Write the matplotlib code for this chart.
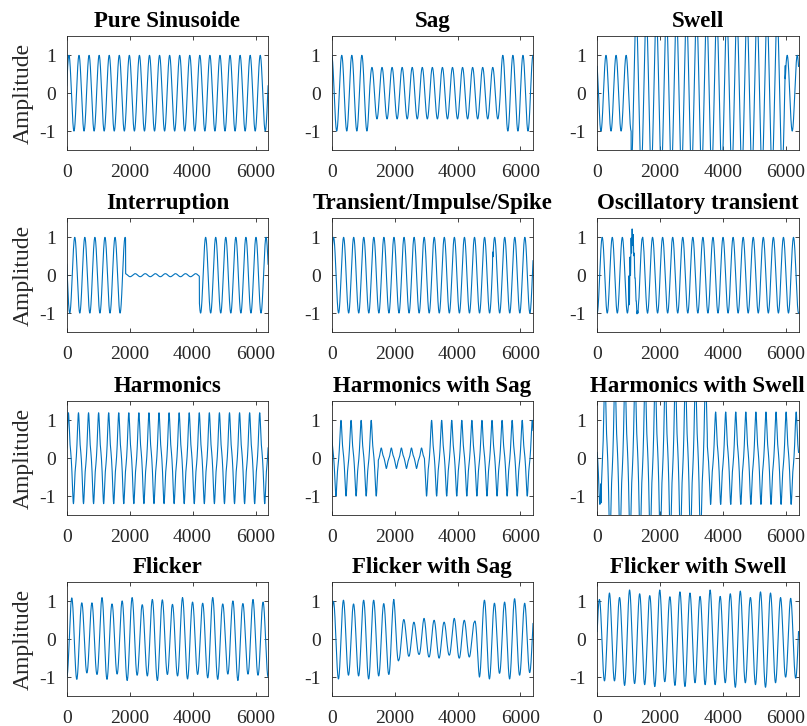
import numpy as np
import matplotlib
matplotlib.use("Agg")
import matplotlib.pyplot as plt

# ---------------- data ----------------
N_SAMPLES = 6400
PERIOD = 320                      # samples per fundamental cycle
x_ticks = [0, 2000, 4000, 6000]
y_ticks = [-1, 0, 1]

titles = ["Pure Sinusoide", "Sag", "Swell",
          "Interruption", "Transient/Impulse/Spike", "Oscillatory transient",
          "Harmonics", "Harmonics with Sag", "Harmonics with Swell",
          "Flicker", "Flicker with Sag", "Flicker with Swell"]

# sample position of a (main) positive peak of each waveform
peak_sample = [70, 0, 280, 255, 60, 160, 53, 296, 245, 160, 55, 70]
# waveform kind: sine carrier or harmonic-distorted carrier
kind = ["sine", "sine", "sine", "sine", "sine", "sine",
        "harm", "harm", "harm", "flick", "flick", "flick"]
# amplitude (peak value) outside any event
base_amp = [1.0, 1.0, 1.0, 1.0, 1.0, 1.0, 1.2, 1.0, 1.22, 1.0, 1.0, 1.0]
# step events: (start sample, end sample, amplitude inside)
events = {1: (1200, 5360, 0.68),
          2: (1080, 5980, 2.0),
          3: (1870, 4215, 0.04),
          7: (1480, 2950, 0.27),
          8: (120, 3500, 2.2)}

# impulse (panel 5): start, end, height
spike = (5112, 5126, 0.14)
# oscillatory transient (panel 6): start, amplitude, period, decay
osc = (1000, 0.6, 34, 120)

# harmonic content: 3rd and 5th harmonic amplitude / phase
harm3_amp, harm3_phase = 0.2, np.pi + 0.35
harm5_amp, harm5_phase = 0.03, 0.0

# flicker extreme magnitudes (peaks at peak+320k, troughs at peak-160+320k)
flicker_peaks = {
    9: [1.09, 0.96, 0.96, 1.10, 0.93, 1.01, 1.10, 0.91, 1.05, 1.04,
        0.92, 1.10, 0.98, 0.95, 1.10, 0.93, 1.01, 0.94, 1.05, 0.98],
    10: [1.00, 1.03, 0.93, 1.03, 1.03, 0.94, 1.05, 0.52, 0.45, 0.55,
         0.50, 0.45, 0.55, 0.50, 0.45, 1.03, 0.95, 0.98, 1.07, 0.95],
    11: [1.05, 1.22, 1.10, 1.30, 1.20, 1.15, 1.30, 1.12, 1.25, 1.22,
         1.13, 1.30, 1.13, 1.20, 1.27, 1.10, 1.25, 1.22, 1.10, 1.08],
}
flicker_troughs = {
    9: [1.00, 1.06, 0.89, 0.93, 1.06, 0.92, 1.09, 0.95, 0.97, 1.09, 0.93,
        0.97, 1.05, 0.93, 1.02, 1.06, 0.92, 1.09, 0.92, 0.95, 1.00],
    10: [1.00, 1.05, 0.95, 0.97, 1.05, 0.97, 0.93, 0.55, 0.45, 0.40, 0.47,
         0.50, 0.42, 0.50, 0.47, 1.00, 1.05, 0.90, 1.05, 0.95, 0.88],
    11: [1.00, 1.10, 1.10, 1.22, 1.17, 1.20, 1.25, 1.12, 1.22, 1.25, 1.15,
         1.20, 1.20, 1.15, 1.27, 1.15, 1.20, 1.27, 1.15, 1.00, 1.03],
}

# ---------------- build waveforms ----------------
t = np.arange(N_SAMPLES + 1, dtype=float)


def harm_shape(theta):
    return (np.sin(theta) + harm3_amp * np.sin(3 * theta + harm3_phase)
            + harm5_amp * np.sin(5 * theta + harm5_phase))


grid = np.linspace(0, 2 * np.pi, 4000, endpoint=False)
hvals = harm_shape(grid)
h_norm = hvals.max()
h_theta = grid[np.argmax(hvals)]

signals = []
for i in range(12):
    phase = 2 * np.pi * (t - peak_sample[i]) / PERIOD
    if kind[i] == "harm":
        carrier = harm_shape(phase + h_theta) / h_norm
    else:
        carrier = np.cos(phase)

    if kind[i] == "flick":
        pk = flicker_peaks[i]
        tr = flicker_troughs[i]
        tp = [peak_sample[i] + PERIOD * k for k in range(len(pk))]
        tt = [peak_sample[i] - PERIOD / 2 + PERIOD * k for k in range(len(tr))]
        times = np.array(tp + tt)
        mags = np.array(pk + tr)
        order = np.argsort(times)
        env = np.interp(t, times[order], mags[order])
    else:
        env = np.full_like(t, base_amp[i])
        if i in events:
            s, e, a = events[i]
            env[(t >= s) & (t < e)] = a
    y = env * carrier
    if i == 4:
        s, e, h = spike
        y[(t >= s) & (t < e)] += h
    if i == 5:
        s, a, per, tau = osc
        m = t >= s
        y[m] += a * np.exp(-(t[m] - s) / tau) * np.sin(2 * np.pi * (t[m] - s) / per)
    signals.append(y)

# ---------------- draw ----------------
plt.rcParams['font.family'] = ['Liberation Serif', 'DejaVu Serif']

fig = plt.figure(figsize=(8.07, 7.26), dpi=100)
lefts = [0.0827, 0.4110, 0.7400]
bottoms = [0.7934, 0.5427, 0.2906, 0.0413]
w, h = 0.2495, 0.1565
line_color = '#0072BD'
dark = '#262626'

for i in range(12):
    r, c = divmod(i, 3)
    ax = fig.add_axes([lefts[c], bottoms[r], w, h])
    ax.plot(t, signals[i], color=line_color, linewidth=0.8)
    ax.set_xlim(0, N_SAMPLES)
    ax.set_ylim(-1.5, 1.5)
    ax.set_xticks(x_ticks)
    ax.set_yticks(y_ticks)
    ax.set_yticklabels([str(v) for v in y_ticks])
    ax.tick_params(direction='in', top=True, right=True, length=3,
                   width=0.6, labelsize=14, colors=dark)
    ax.tick_params(axis='x', pad=10)
    ax.tick_params(axis='y', pad=8)
    for sp in ax.spines.values():
        sp.set_linewidth(0.6)
        sp.set_color(dark)
    ax.set_title(titles[i], fontsize=16.5, fontweight='bold', pad=7)
    if c == 0:
        ax.set_ylabel('Amplitude', fontsize=17, color=dark, labelpad=4)

fig.savefig('out.png', dpi=100)
